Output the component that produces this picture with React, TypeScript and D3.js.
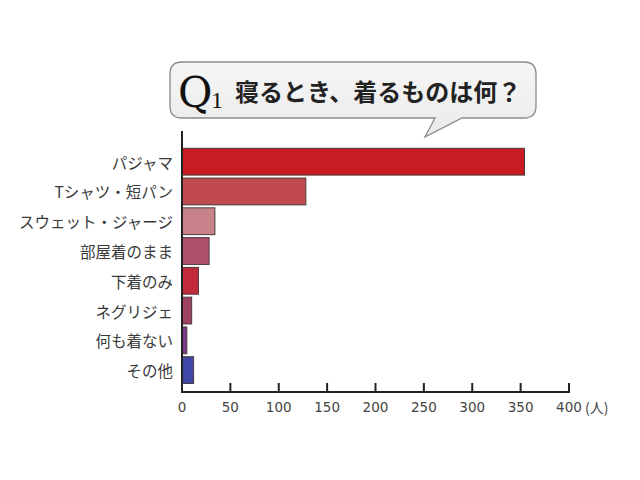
import React from "react";
import * as d3 from "d3";

const categories = ["パジャマ", "Tシャツ・短パン", "スウェット・ジャージ", "部屋着のまま", "下着のみ", "ネグリジェ", "何も着ない", "その他"];
const values = [354, 128, 34, 28, 17, 10, 5, 12];
const colors = ["#C81C22", "#C04A50", "#C8828A", "#B0506A", "#C02A3A", "#A04062", "#7A3C8A", "#4048A8"];
const ticks = [0, 50, 100, 150, 200, 250, 300, 350, 400];
const title = "寝るとき、着るものは何？";
const unit = "(人)";

export default function App() {
  const x = d3.scaleLinear().domain([0, 400]).range([182, 569]);
  const y = d3.scaleBand<string>().domain(categories).range([146.8, 385]).paddingInner(0.1).paddingOuter(0.05);
  const jp = "'Noto Sans CJK JP', 'Noto Sans', sans-serif";
  const axisY = 392;
  const bubble = "M182,62 H524 Q536,62 536,74 V106 Q536,118 524,118 H462 L425,137 L435,118 H182 Q170,118 170,106 V74 Q170,62 182,62 Z";
  return (
    <svg width={640} height={480} style={{ position: "absolute", left: 0, top: 0 }}>
      <defs>
        <linearGradient id="bg" x1="0" y1="0" x2="0" y2="1">
          <stop offset="0" stopColor="#F6F6F6" />
          <stop offset="1" stopColor="#EAEAEA" />
        </linearGradient>
      </defs>
      <rect width={640} height={480} fill="#fff" />
      <path d={bubble} fill="url(#bg)" stroke="#8a8a8a" strokeWidth={1.3} />
      <text x={178} y={107} fontFamily="'DejaVu Serif', 'Liberation Serif', serif" fontSize={42} fill="#111">Q</text>
      <text x={211} y={108} fontFamily="'Liberation Serif', 'DejaVu Serif', serif" fontSize={24} fill="#111">1</text>
      <text x={235} y={101} fontFamily={jp} fontWeight={700} fontSize={24} fill="#222">{title}</text>
      {categories.map((c, i) => (
        <rect key={c} x={x(0)} y={y(c)} width={x(values[i]) - x(0)} height={y.bandwidth()} fill={colors[i]} stroke="#4a3a3a" strokeWidth={1} />
      ))}
      {categories.map((c) => (
        <text key={c} x={173} y={(y(c) as number) + y.bandwidth() / 2} textAnchor="end" dominantBaseline="central" fontFamily={jp} fontSize={15.5} fill="#3a3a3a">{c}</text>
      ))}
      <line x1={182} y1={131} x2={182} y2={axisY} stroke="#222" strokeWidth={2} />
      <line x1={181} y1={axisY} x2={570} y2={axisY} stroke="#222" strokeWidth={2} />
      {ticks.map((t) => (
        <g key={t}>
          <line x1={x(t)} y1={axisY} x2={x(t)} y2={axisY - 9} stroke="#222" strokeWidth={2} />
          <text x={x(t)} y={407} textAnchor="middle" dominantBaseline="central" fontFamily="'DejaVu Sans', Verdana, sans-serif" fontSize={13.5} fill="#444">{t}</text>
        </g>
      ))}
      <text x={585} y={407} dominantBaseline="central" fontFamily={jp} fontSize={14} fill="#444">{unit}</text>
    </svg>
  );
}
